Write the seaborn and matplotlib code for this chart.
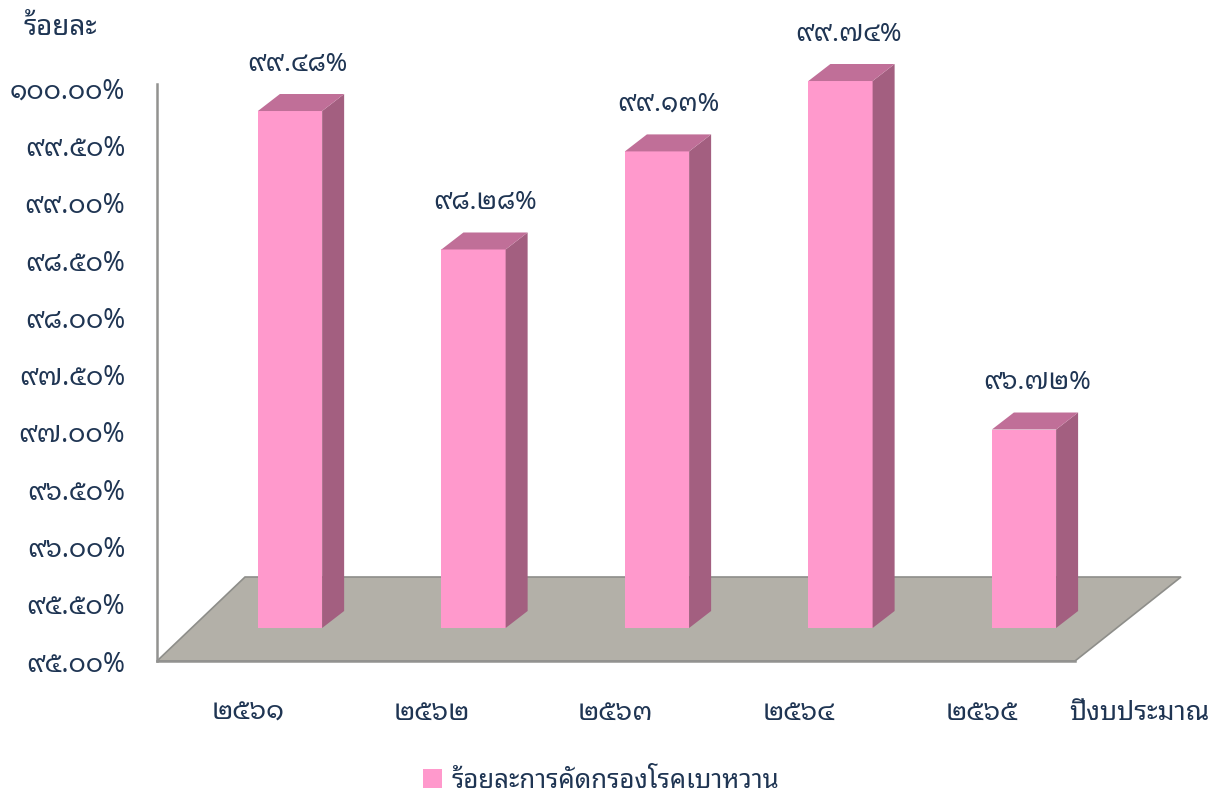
import seaborn as sns
import pandas as pd
import matplotlib
matplotlib.use('Agg')
import matplotlib.pyplot as plt
from matplotlib.patches import Polygon
from matplotlib.transforms import ScaledTranslation

years = ["๒๕๖๑", "๒๕๖๒", "๒๕๖๓", "๒๕๖๔", "๒๕๖๕"]
values = [99.48, 98.28, 99.13, 99.74, 96.72]
value_labels = ["๙๙.๔๘%", "๙๘.๒๘%", "๙๙.๑๓%", "๙๙.๗๔%", "๙๖.๗๒%"]
tick_values = [95.0, 95.5, 96.0, 96.5, 97.0, 97.5, 98.0, 98.5, 99.0, 99.5, 100.0]
tick_labels = ["๙๕.๐๐%", "๙๕.๕๐%", "๙๖.๐๐%", "๙๖.๕๐%", "๙๗.๐๐%", "๙๗.๕๐%",
               "๙๘.๐๐%", "๙๘.๕๐%", "๙๙.๐๐%", "๙๙.๕๐%", "๑๐๐.๐๐%"]
series_name = "ร้อยละการคัดกรองโรคเบาหวาน"

W, H = 1223, 794
FONT = ['Noto Sans Thai Looped', 'DejaVu Sans']
INK = '#1f3553'
PINK = '#ff99cc'
SIDE = '#a35f80'
TOP = '#c06f98'
FLOOR = '#b3b0a8'
EDGE = '#8e8e8a'

sns.set_theme(style='white')
plt.rcParams['font.family'] = FONT
plt.rcParams['axes.unicode_minus'] = False

fig = plt.figure(figsize=(W / 100, H / 100), dpi=100, facecolor='white')


def rect(x0, y_top, x1, y_bot):
    return [x0 / W, 1 - y_bot / H, (x1 - x0) / W, (y_bot - y_top) / H]


def px(x, y):
    return (x / W, 1 - y / H)


# floor
fig.add_artist(Polygon([px(157, 661), px(245, 577), px(1181, 577), px(1075, 661)],
                       closed=True, transform=fig.transFigure, facecolor=FLOOR,
                       edgecolor=EDGE, linewidth=1.2, zorder=0))

# value axis (front plane)
ax_y = fig.add_axes(rect(157, 83.5, 1075, 661), facecolor='none', zorder=1)
ax_y.set_xlim(0, 1)
ax_y.set_ylim(95, 100 + 4.5 / 114.6)
ax_y.set_yticks(tick_values)
ax_y.set_yticklabels(tick_labels, fontsize=19, color=INK, family=FONT)
ax_y.tick_params(axis='y', length=0, pad=23)
ax_y.set_xticks([])
for s in ['top', 'right']:
    ax_y.spines[s].set_visible(False)
for s in ['left', 'bottom']:
    ax_y.spines[s].set_color('#929290')
    ax_y.spines[s].set_linewidth(1.8)

# bars (mid plane of the 3D box)
ax = fig.add_axes(rect(157, 51, 1075, 628), facecolor='none', zorder=2)
df = pd.DataFrame({'year': years, 'value': values, 'series': series_name})
sns.barplot(data=df, x='year', y='value', hue='series', palette=[PINK],
            width=0.35, dodge=False, ax=ax, saturation=1, legend=False, linewidth=0)
ax.set_ylim(95, 100)
ax.set_xlim(-0.725, 4.278)
ax.set_xlabel('')
ax.set_ylabel('')
ax.set_yticks([])
ax.set_xticks(range(len(years)))
ax.set_xticklabels(years, fontsize=19.5, color=INK, family=FONT)
ax.tick_params(axis='x', length=0, pad=51)
shift = ScaledTranslation(-42 / 100, 0, fig.dpi_scale_trans)
for t in ax.get_xticklabels():
    t.set_transform(t.get_transform() + shift)
for s in ax.spines.values():
    s.set_visible(False)

DX, DY = 22, 17
label_dx = [7, 12, 11, 8, 13]
base = ax.get_ylim()[0]
for bar, lab, ldx in zip(ax.patches, value_labels, label_dx):
    bar.set_edgecolor('none')
    x0, x1 = bar.get_x(), bar.get_x() + bar.get_width()
    y1 = bar.get_y() + bar.get_height()
    (dx0, dy0), (dx1, dy1) = ax.transData.transform([(x0, base), (x1, y1)])
    side = [(dx1, dy0), (dx1 + DX, dy0 + DY), (dx1 + DX, dy1 + DY), (dx1, dy1)]
    top = [(dx0, dy1), (dx0 + DX, dy1 + DY), (dx1 + DX, dy1 + DY), (dx1, dy1)]
    for pts, c in ((side, SIDE), (top, TOP)):
        fig.add_artist(Polygon(pts, closed=True, transform=None, facecolor=c,
                               edgecolor='none', zorder=3))
    ax.annotate(lab, xy=((x0 + x1) / 2, y1), xytext=(ldx * 0.72, 47 * 0.72),
                textcoords='offset points', ha='center', va='center',
                fontsize=18.8, color=INK, family=FONT, annotation_clip=False)

fig.text(60 / W, 1 - 28 / H, "ร้อยละ", fontsize=20, color=INK, family=FONT,
         ha='center', va='center')
fig.text(1139 / W, 1 - 713 / H, "ปีงบประมาณ", fontsize=19.2, color=INK, family=FONT,
         ha='center', va='center')

handle = plt.Rectangle((0, 0), 1, 1, facecolor=PINK, edgecolor='none')
fig.legend([handle], [series_name], loc='center', bbox_to_anchor=(601 / W, 1 - 781 / H),
           frameon=False, handlelength=0.72, handleheight=0.72, handletextpad=0.38,
           prop={'family': FONT, 'size': 18.6}, labelcolor=INK)

fig.savefig('out.png', dpi=100, facecolor='white')
